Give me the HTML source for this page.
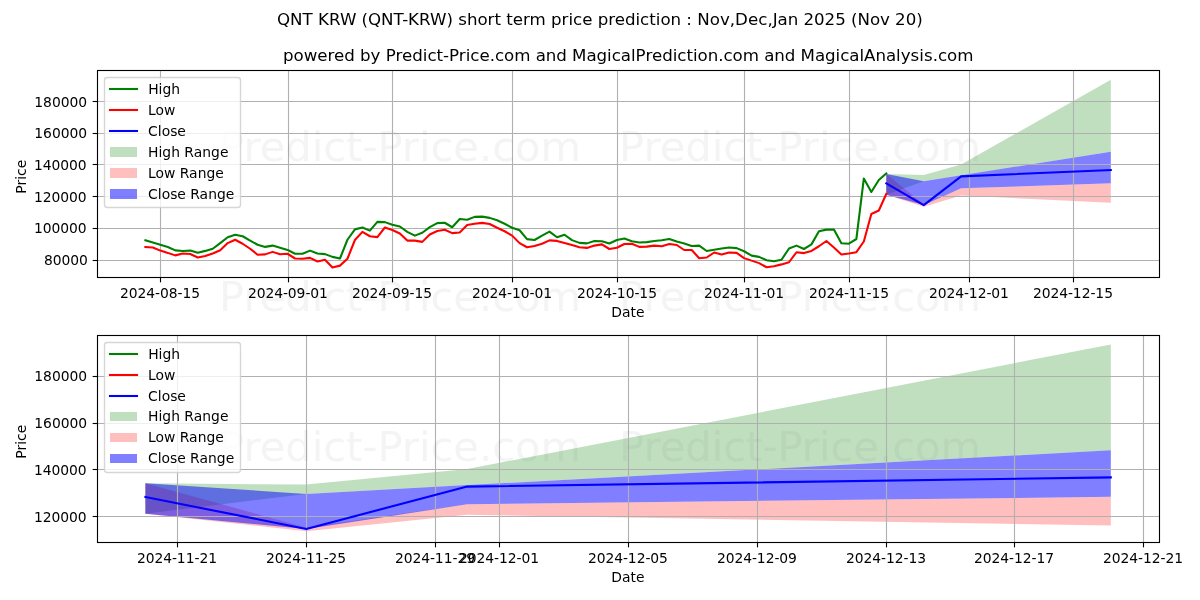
<!DOCTYPE html>
<html lang="en"><head><meta charset="utf-8"><title>QNT KRW (QNT-KRW) short term price prediction</title>
<style>
html,body{margin:0;padding:0;background:#fff;}
body{width:1200px;height:600px;overflow:hidden;}
svg text{font-family:"DejaVu Sans", "Liberation Sans", sans-serif;}
</style></head><body>
<svg width="1200" height="600" viewBox="0 0 1200 600" style="display:block">
<rect x="0" y="0" width="1200" height="600" fill="#ffffff"/>
<clipPath id="c1"><rect x="97.5" y="70.5" width="1062" height="207"/></clipPath>
<g clip-path="url(#c1)">
<polygon points="886.3,174.09 923.72,174.98 961.14,164.44 1110.82,79.75 1110.82,151.66 961.14,175.32 923.72,181.3 886.3,194.76" fill="#008000" fill-opacity="0.25"/>
<polygon points="886.3,174.09 923.72,204.14 961.14,188.37 1110.82,183.27 1110.82,202.78 961.14,195.5 923.72,206.72 886.3,194.76" fill="#ff0000" fill-opacity="0.25"/>
<polygon points="886.3,174.09 923.72,181.3 961.14,175.32 1110.82,151.66 1110.82,183.27 961.14,188.37 923.72,205.09 886.3,194.76" fill="#0000ff" fill-opacity="0.5"/>
<line x1="160.5" y1="70.5" x2="160.5" y2="277.5" stroke="#b0b0b0" stroke-width="1.11"/>
<line x1="288.5" y1="70.5" x2="288.5" y2="277.5" stroke="#b0b0b0" stroke-width="1.11"/>
<line x1="392.5" y1="70.5" x2="392.5" y2="277.5" stroke="#b0b0b0" stroke-width="1.11"/>
<line x1="512.5" y1="70.5" x2="512.5" y2="277.5" stroke="#b0b0b0" stroke-width="1.11"/>
<line x1="617.5" y1="70.5" x2="617.5" y2="277.5" stroke="#b0b0b0" stroke-width="1.11"/>
<line x1="744.5" y1="70.5" x2="744.5" y2="277.5" stroke="#b0b0b0" stroke-width="1.11"/>
<line x1="849.5" y1="70.5" x2="849.5" y2="277.5" stroke="#b0b0b0" stroke-width="1.11"/>
<line x1="969.5" y1="70.5" x2="969.5" y2="277.5" stroke="#b0b0b0" stroke-width="1.11"/>
<line x1="1073.5" y1="70.5" x2="1073.5" y2="277.5" stroke="#b0b0b0" stroke-width="1.11"/>
<line x1="97.5" y1="101.5" x2="1159.5" y2="101.5" stroke="#b0b0b0" stroke-width="1.11"/>
<line x1="97.5" y1="133.5" x2="1159.5" y2="133.5" stroke="#b0b0b0" stroke-width="1.11"/>
<line x1="97.5" y1="164.5" x2="1159.5" y2="164.5" stroke="#b0b0b0" stroke-width="1.11"/>
<line x1="97.5" y1="196.5" x2="1159.5" y2="196.5" stroke="#b0b0b0" stroke-width="1.11"/>
<line x1="97.5" y1="228.5" x2="1159.5" y2="228.5" stroke="#b0b0b0" stroke-width="1.11"/>
<line x1="97.5" y1="260.5" x2="1159.5" y2="260.5" stroke="#b0b0b0" stroke-width="1.11"/>
<polyline points="145.37,240.25 152.85,242.5 160.34,244.75 167.82,247 175.31,250.38 182.79,251 190.27,250.62 197.76,252.75 205.24,250.88 212.73,248.75 220.21,243.12 227.7,237.25 235.18,234.75 242.66,236.25 250.15,240.62 257.63,244.75 265.12,246.88 272.6,245.62 280.08,247.81 287.57,249.88 295.05,253.75 302.54,253.75 310.02,250.62 317.5,253.5 324.99,254.12 332.47,256.88 339.96,258.5 347.44,239.75 354.92,229.38 362.41,227.5 369.89,230.62 377.38,221.88 384.86,222.12 392.35,224.75 399.83,226.5 407.31,231.88 414.8,235.62 422.28,232.75 429.77,227.06 437.25,223.12 444.73,222.75 452.22,227.25 459.7,219 467.19,219.75 474.67,216.88 482.15,216.62 489.64,217.88 497.12,220.25 504.61,223.75 512.09,227.75 519.58,230.25 527.06,239.12 534.54,240 542.03,235.62 549.51,231.62 557,237.25 564.48,234.75 571.96,240.12 579.45,242.88 586.93,243.38 594.42,241 601.9,241.25 609.38,243.5 616.87,240 624.35,238.5 631.84,241.25 639.32,242.5 646.8,242.12 654.29,241 661.77,240.25 669.26,239 676.74,241.5 684.23,243.5 691.71,246 699.19,245.62 706.68,251 714.16,249.75 721.65,248.5 729.13,247.5 736.61,248.12 744.1,251.25 751.58,255.62 759.07,256.88 766.55,260.25 774.03,261.25 781.52,259.75 789,248.5 796.49,245.62 803.97,249 811.45,244.38 818.94,231.25 826.42,229.62 833.91,229.44 841.39,243.2 848.88,243.7 856.36,239 863.84,178.5 871.33,192 878.81,180 886.3,173.5" fill="none" stroke="#008000" stroke-width="2.08" stroke-linejoin="round" stroke-linecap="square"/>
<polyline points="145.37,247.12 152.85,247.5 160.34,250.62 167.82,252.88 175.31,255.38 182.79,253.5 190.27,254 197.76,257.5 205.24,256 212.73,253.5 220.21,250.25 227.7,243.12 235.18,239.75 242.66,243.75 250.15,248.75 257.63,254.75 265.12,254.38 272.6,251.88 280.08,254.25 287.57,253.75 295.05,258.5 302.54,258.75 310.02,257.88 317.5,261.5 324.99,259.75 332.47,267.5 339.96,265.62 347.44,258.75 354.92,240 362.41,231.88 369.89,236.25 377.38,237.12 384.86,227.5 392.35,230 399.83,233.5 407.31,240.62 414.8,240.62 422.28,241.88 429.77,234.56 437.25,231 444.73,229.75 452.22,233.12 459.7,232.5 467.19,225 474.67,223.75 482.15,222.88 489.64,224 497.12,227.75 504.61,231.25 512.09,235.62 519.58,243.12 527.06,247.25 534.54,246 542.03,243.75 549.51,240.38 557,240.88 564.48,243 571.96,245.12 579.45,247.25 586.93,247.88 594.42,245.62 601.9,244.38 609.38,249 616.87,247.75 624.35,244 631.84,243.75 639.32,246.88 646.8,246.62 654.29,245.62 661.77,246.25 669.26,244 676.74,245 684.23,250 691.71,250 699.19,258.25 706.68,257.5 714.16,252.5 721.65,254.62 729.13,252.5 736.61,252.88 744.1,258.12 751.58,260.62 759.07,263.12 766.55,267.25 774.03,266.25 781.52,264.38 789,262.25 796.49,252.25 803.97,253.12 811.45,250.88 818.94,246.25 826.42,241 833.91,247.5 841.39,254.5 848.88,253.5 856.36,252.2 863.84,241.5 871.33,214 878.81,210.5 886.3,194" fill="none" stroke="#ff0000" stroke-width="2.08" stroke-linejoin="round" stroke-linecap="square"/>
<polyline points="886.3,183.41 923.72,205.09 961.14,176.34 1110.82,170.08" fill="none" stroke="#0000ff" stroke-width="2.08" stroke-linejoin="round" stroke-linecap="square"/>
</g>
<line x1="160.5" y1="277.5" x2="160.5" y2="282.36" stroke="#000" stroke-width="1.11"/>
<line x1="288.5" y1="277.5" x2="288.5" y2="282.36" stroke="#000" stroke-width="1.11"/>
<line x1="392.5" y1="277.5" x2="392.5" y2="282.36" stroke="#000" stroke-width="1.11"/>
<line x1="512.5" y1="277.5" x2="512.5" y2="282.36" stroke="#000" stroke-width="1.11"/>
<line x1="617.5" y1="277.5" x2="617.5" y2="282.36" stroke="#000" stroke-width="1.11"/>
<line x1="744.5" y1="277.5" x2="744.5" y2="282.36" stroke="#000" stroke-width="1.11"/>
<line x1="849.5" y1="277.5" x2="849.5" y2="282.36" stroke="#000" stroke-width="1.11"/>
<line x1="969.5" y1="277.5" x2="969.5" y2="282.36" stroke="#000" stroke-width="1.11"/>
<line x1="1073.5" y1="277.5" x2="1073.5" y2="282.36" stroke="#000" stroke-width="1.11"/>
<line x1="92.64" y1="101.5" x2="97.5" y2="101.5" stroke="#000" stroke-width="1.11"/>
<line x1="92.64" y1="133.5" x2="97.5" y2="133.5" stroke="#000" stroke-width="1.11"/>
<line x1="92.64" y1="164.5" x2="97.5" y2="164.5" stroke="#000" stroke-width="1.11"/>
<line x1="92.64" y1="196.5" x2="97.5" y2="196.5" stroke="#000" stroke-width="1.11"/>
<line x1="92.64" y1="228.5" x2="97.5" y2="228.5" stroke="#000" stroke-width="1.11"/>
<line x1="92.64" y1="260.5" x2="97.5" y2="260.5" stroke="#000" stroke-width="1.11"/>
<rect x="97.5" y="70.5" width="1062" height="207" fill="none" stroke="#000" stroke-width="1.11"/>
<clipPath id="c2"><rect x="97.5" y="335.5" width="1062" height="207"/></clipPath>
<g clip-path="url(#c2)">
<polygon points="145.37,483.3 306.28,484.6 467.19,469.1 1110.82,344.5 1110.82,450.3 467.19,485.1 306.28,493.9 145.37,513.7" fill="#008000" fill-opacity="0.25"/>
<polygon points="145.37,483.3 306.28,527.5 467.19,504.3 1110.82,496.8 1110.82,525.5 467.19,514.8 306.28,531.3 145.37,513.7" fill="#ff0000" fill-opacity="0.25"/>
<polygon points="145.37,483.3 306.28,493.9 467.19,485.1 1110.82,450.3 1110.82,496.8 467.19,504.3 306.28,528.9 145.37,513.7" fill="#0000ff" fill-opacity="0.5"/>
<line x1="177.5" y1="335.5" x2="177.5" y2="542.5" stroke="#b0b0b0" stroke-width="1.11"/>
<line x1="306.5" y1="335.5" x2="306.5" y2="542.5" stroke="#b0b0b0" stroke-width="1.11"/>
<line x1="435.5" y1="335.5" x2="435.5" y2="542.5" stroke="#b0b0b0" stroke-width="1.11"/>
<line x1="499.5" y1="335.5" x2="499.5" y2="542.5" stroke="#b0b0b0" stroke-width="1.11"/>
<line x1="628.5" y1="335.5" x2="628.5" y2="542.5" stroke="#b0b0b0" stroke-width="1.11"/>
<line x1="757.5" y1="335.5" x2="757.5" y2="542.5" stroke="#b0b0b0" stroke-width="1.11"/>
<line x1="886.5" y1="335.5" x2="886.5" y2="542.5" stroke="#b0b0b0" stroke-width="1.11"/>
<line x1="1014.5" y1="335.5" x2="1014.5" y2="542.5" stroke="#b0b0b0" stroke-width="1.11"/>
<line x1="1143.5" y1="335.5" x2="1143.5" y2="542.5" stroke="#b0b0b0" stroke-width="1.11"/>
<line x1="97.5" y1="376.5" x2="1159.5" y2="376.5" stroke="#b0b0b0" stroke-width="1.11"/>
<line x1="97.5" y1="423.5" x2="1159.5" y2="423.5" stroke="#b0b0b0" stroke-width="1.11"/>
<line x1="97.5" y1="469.5" x2="1159.5" y2="469.5" stroke="#b0b0b0" stroke-width="1.11"/>
<line x1="97.5" y1="516.5" x2="1159.5" y2="516.5" stroke="#b0b0b0" stroke-width="1.11"/>
<polyline points="145.37,497 306.28,528.9 467.19,486.6 1110.82,477.4" fill="none" stroke="#0000ff" stroke-width="2.08" stroke-linejoin="round" stroke-linecap="square"/>
</g>
<line x1="177.5" y1="542.5" x2="177.5" y2="547.36" stroke="#000" stroke-width="1.11"/>
<line x1="306.5" y1="542.5" x2="306.5" y2="547.36" stroke="#000" stroke-width="1.11"/>
<line x1="435.5" y1="542.5" x2="435.5" y2="547.36" stroke="#000" stroke-width="1.11"/>
<line x1="499.5" y1="542.5" x2="499.5" y2="547.36" stroke="#000" stroke-width="1.11"/>
<line x1="628.5" y1="542.5" x2="628.5" y2="547.36" stroke="#000" stroke-width="1.11"/>
<line x1="757.5" y1="542.5" x2="757.5" y2="547.36" stroke="#000" stroke-width="1.11"/>
<line x1="886.5" y1="542.5" x2="886.5" y2="547.36" stroke="#000" stroke-width="1.11"/>
<line x1="1014.5" y1="542.5" x2="1014.5" y2="547.36" stroke="#000" stroke-width="1.11"/>
<line x1="1143.5" y1="542.5" x2="1143.5" y2="547.36" stroke="#000" stroke-width="1.11"/>
<line x1="92.64" y1="376.5" x2="97.5" y2="376.5" stroke="#000" stroke-width="1.11"/>
<line x1="92.64" y1="423.5" x2="97.5" y2="423.5" stroke="#000" stroke-width="1.11"/>
<line x1="92.64" y1="469.5" x2="97.5" y2="469.5" stroke="#000" stroke-width="1.11"/>
<line x1="92.64" y1="516.5" x2="97.5" y2="516.5" stroke="#000" stroke-width="1.11"/>
<rect x="97.5" y="335.5" width="1062" height="207" fill="none" stroke="#000" stroke-width="1.11"/>
<text x="219.06 243.44 259.69 285.31 311.69 323.19 346.06 362.44 377.44 401.81 418.94 430.44 453.31 478.94 492.19 515.06 540.44" y="461" font-size="41.67" fill="#808080" fill-opacity="0.085">Predict-Price.com</text>
<text x="219.06 243.44 259.69 285.31 311.69 323.19 346.06 362.44 377.44 401.81 418.94 430.44 453.31 478.94 492.19 515.06 540.44" y="311" font-size="41.67" fill="#808080" fill-opacity="0.085">Predict-Price.com</text>
<text x="219.06 243.44 259.69 285.31 311.69 323.19 346.06 362.44 377.44 401.81 418.94 430.44 453.31 478.94 492.19 515.06 540.44" y="161" font-size="41.67" fill="#808080" fill-opacity="0.085">Predict-Price.com</text>
<text x="619.06 643.44 659.69 685.31 711.69 723.19 746.06 762.44 777.44 801.81 818.94 830.44 853.31 878.94 892.19 915.06 940.44" y="461" font-size="41.67" fill="#808080" fill-opacity="0.085">Predict-Price.com</text>
<text x="619.06 643.44 659.69 685.31 711.69 723.19 746.06 762.44 777.44 801.81 818.94 830.44 853.31 878.94 892.19 915.06 940.44" y="311" font-size="41.67" fill="#808080" fill-opacity="0.085">Predict-Price.com</text>
<text x="619.06 643.44 659.69 685.31 711.69 723.19 746.06 762.44 777.44 801.81 818.94 830.44 853.31 878.94 892.19 915.06 940.44" y="161" font-size="41.67" fill="#808080" fill-opacity="0.085">Predict-Price.com</text>
<rect x="104.5" y="77.5" width="136" height="130" rx="2.78" ry="2.78" fill="#ffffff" fill-opacity="0.8" stroke="#cccccc" stroke-opacity="0.8" stroke-width="1.39"/>
<rect x="108.96" y="87.96" width="29.08" height="2.08" fill="#008000"/>
<rect x="108.96" y="108.96" width="29.08" height="2.08" fill="#ff0000"/>
<rect x="108.96" y="129.96" width="29.08" height="2.08" fill="#0000ff"/>
<rect x="110" y="147" width="27" height="10" fill="#008000" fill-opacity="0.25"/>
<rect x="110" y="168" width="27" height="10" fill="#ff0000" fill-opacity="0.25"/>
<rect x="110" y="189" width="27" height="10" fill="#0000ff" fill-opacity="0.5"/>
<rect x="104.5" y="342.5" width="136" height="130" rx="2.78" ry="2.78" fill="#ffffff" fill-opacity="0.8" stroke="#cccccc" stroke-opacity="0.8" stroke-width="1.39"/>
<rect x="108.96" y="352.96" width="29.08" height="2.08" fill="#008000"/>
<rect x="108.96" y="373.96" width="29.08" height="2.08" fill="#ff0000"/>
<rect x="108.96" y="394.96" width="29.08" height="2.08" fill="#0000ff"/>
<rect x="110" y="412" width="27" height="9" fill="#008000" fill-opacity="0.25"/>
<rect x="110" y="433" width="27" height="9" fill="#ff0000" fill-opacity="0.25"/>
<rect x="110" y="454" width="27" height="9" fill="#0000ff" fill-opacity="0.5"/>
<text x="611.16 621.91 630.54 636.04" y="317" font-size="13.89">Date</text>
<text x="120.09 128.84 137.59 146.34 155.09 159.97 168.72 177.59 182.47 191.34" y="298" font-size="13.89">2024-08-15</text>
<text x="247.95 256.7 265.45 274.2 282.95 287.82 296.57 305.45 310.32 319.07" y="298" font-size="13.89">2024-09-01</text>
<text x="352.1 360.85 369.6 378.35 387.1 391.97 400.72 409.6 414.47 423.35" y="298" font-size="13.89">2024-09-15</text>
<text x="472.1 480.85 489.6 498.35 507.1 511.97 520.85 529.6 534.47 543.22" y="298" font-size="13.89">2024-10-01</text>
<text x="577 585.75 594.5 603.25 612 616.87 625.75 634.5 639.37 648.25" y="298" font-size="13.89">2024-10-15</text>
<text x="704.04 712.79 721.54 730.29 739.04 743.92 752.79 761.67 766.54 775.29" y="298" font-size="13.89">2024-11-01</text>
<text x="808.94 817.69 826.44 835.19 843.94 848.82 857.69 866.57 871.44 880.32" y="298" font-size="13.89">2024-11-15</text>
<text x="928.88 937.63 946.38 955.13 963.88 968.75 977.63 986.38 991.25 1000" y="298" font-size="13.89">2024-12-01</text>
<text x="1032.91 1041.66 1050.41 1059.16 1067.91 1072.78 1081.66 1090.41 1095.28 1104.16" y="298" font-size="13.89">2024-12-15</text>
<text transform="translate(26.07 193.66) rotate(-90)" x="0 8.12 13.88 17.75 25.38" y="0" font-size="13.89">Price</text>
<text x="43.88 52.75 61.5 70.25 79" y="265" font-size="13.89">80000</text>
<text x="33.88 42.75 51.5 60.25 69 77.75" y="233" font-size="13.89">100000</text>
<text x="33.88 42.75 51.5 60.25 69 77.75" y="202" font-size="13.89">120000</text>
<text x="33.88 42.75 51.5 60.25 69 77.75" y="170" font-size="13.89">140000</text>
<text x="34.13 43 51.88 60.63 69.38 78.13" y="138" font-size="13.89">160000</text>
<text x="34.13 43 51.88 60.63 69.38 78.13" y="107" font-size="13.89">180000</text>
<text x="283.04 293.54 303.66 317.29 327.54 334.04 344.29 354.79 360.04 370.54 380.41 385.66 395.54 402.04 412.29 422.79 427.41 436.54 443.04 448.91 458.79 465.66 470.29 479.41 489.66 494.91 504.04 514.16 530.41 535.66 545.79 556.29 566.79 572.04 586.41 596.54 607.04 611.66 620.79 630.91 635.54 645.41 651.91 662.16 672.66 677.29 686.41 692.91 697.54 707.66 718.16 723.41 732.54 742.66 758.91 764.16 774.29 784.79 795.29 800.54 814.91 825.04 835.54 840.16 849.29 859.41 864.04 875.41 885.91 896.04 900.66 910.54 919.29 923.91 932.66 937.91 947.04 957.16" y="61" font-size="16.67">powered by Predict-Price.com and MagicalPrediction.com and MagicalAnalysis.com</text>
<text x="148.24 158.61 162.49 171.36" y="94" font-size="13.89">High</text>
<text x="148.11 155.61 164.11" y="115" font-size="13.89">Low</text>
<text x="148.11 157.86 161.74 170.24 177.36" y="136" font-size="13.89">Close</text>
<text x="148.11 158.49 162.36 171.24 179.99 184.36 193.74 202.36 211.11 219.99" y="157" font-size="13.89">High Range</text>
<text x="147.99 155.49 163.99 175.36 179.74 189.11 197.74 206.49 215.36" y="178" font-size="13.89">Low Range</text>
<text x="148.11 157.86 161.74 170.24 177.36 185.86 190.24 199.61 208.24 216.99 225.86" y="199" font-size="13.89">Close Range</text>
<text x="611.16 621.91 630.54 636.04" y="582" font-size="13.89">Date</text>
<text x="136.99 145.74 154.49 163.24 171.99 176.87 185.74 194.62 199.49 208.24" y="563" font-size="13.89">2024-11-21</text>
<text x="266.03 274.78 283.53 292.28 301.03 305.91 314.78 323.66 328.53 337.28" y="563" font-size="13.89">2024-11-25</text>
<text x="394.95 403.7 412.45 421.2 429.95 434.82 443.7 452.57 457.45 466.2" y="563" font-size="13.89">2024-11-29</text>
<text x="459.12 467.87 476.62 485.37 494.12 499 507.87 516.62 521.5 530.25" y="563" font-size="13.89">2024-12-01</text>
<text x="587.91 596.66 605.41 614.16 622.91 627.79 636.66 645.41 650.29 659.04" y="563" font-size="13.89">2024-12-05</text>
<text x="716.95 725.7 734.45 743.2 751.95 756.83 765.7 774.45 779.33 788.08" y="563" font-size="13.89">2024-12-09</text>
<text x="846.05 854.8 863.55 872.3 881.05 885.93 894.8 903.55 908.43 917.3" y="563" font-size="13.89">2024-12-13</text>
<text x="974.03 982.78 991.53 1000.28 1009.03 1013.91 1022.78 1031.53 1036.41 1045.28" y="563" font-size="13.89">2024-12-17</text>
<text x="1103.01 1111.76 1120.51 1129.26 1138.01 1142.88 1151.76 1160.51 1165.38 1174.13" y="563" font-size="13.89">2024-12-21</text>
<text transform="translate(26.07 458.66) rotate(-90)" x="0 8.12 13.88 17.75 25.38" y="0" font-size="13.89">Price</text>
<text x="33.88 42.75 51.5 60.25 69 77.75" y="522" font-size="13.89">120000</text>
<text x="33.88 42.75 51.5 60.25 69 77.75" y="475" font-size="13.89">140000</text>
<text x="34.13 43 51.88 60.63 69.38 78.13" y="428" font-size="13.89">160000</text>
<text x="34.13 43 51.88 60.63 69.38 78.13" y="381" font-size="13.89">180000</text>
<text x="148.24 158.61 162.49 171.36" y="359" font-size="13.89">High</text>
<text x="148.11 155.61 164.11" y="380" font-size="13.89">Low</text>
<text x="148.11 157.86 161.74 170.24 177.36" y="401" font-size="13.89">Close</text>
<text x="148.11 158.49 162.36 171.24 179.99 184.36 193.74 202.36 211.11 219.99" y="421" font-size="13.89">High Range</text>
<text x="147.99 155.49 163.99 175.36 179.74 189.11 197.74 206.49 215.36" y="442" font-size="13.89">Low Range</text>
<text x="147.99 157.74 161.61 170.11 177.24 185.74 190.11 199.49 208.11 216.86 225.74" y="463" font-size="13.89">Close Range</text>
<text x="277 290 302.5 312.75 318 328.88 339.88 356.38 361.62 368 381 393.5 402.25 408.12 419 430 446.5 453 458.25 467 477.5 487.62 494.5 501 506.25 512.75 523 529.62 545.88 551.12 561.62 568.5 573.12 582.25 592.5 597.75 608.25 614.75 625 635.5 640.12 649.25 655.75 660.38 670.5 681 686.25 692 697.25 709.75 719.88 729.75 735.12 748 758.25 767.38 772.75 777.62 787.75 798.25 803.5 814.12 824.62 835.25 845.75 851 857.38 869.88 880 889.88 895.12 905.75 916.25" y="25" font-size="16.67">QNT KRW (QNT-KRW) short term price prediction : Nov,Dec,Jan 2025 (Nov 20)</text>
</svg>
</body></html>
